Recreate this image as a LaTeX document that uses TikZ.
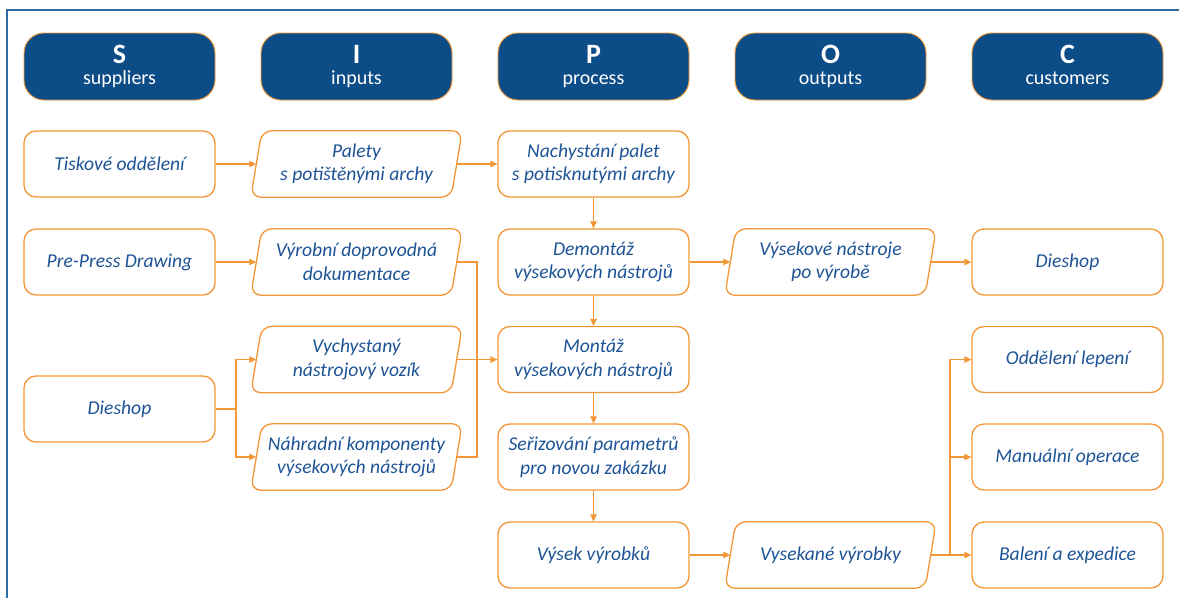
\documentclass[tikz,border=0pt]{standalone}
\usepackage{fontspec}
\setmainfont{Carlito}
\usetikzlibrary{arrows.meta,calc}

\definecolor{frameblue}{HTML}{2E6BA6}
\definecolor{headblue}{HTML}{0C4C87}
\definecolor{textblue}{HTML}{1E5496}
\definecolor{lineorange}{HTML}{F39636}

\tikzset{
  head/.style={draw=lineorange, line width=0.9pt, fill=headblue, rounded corners=20pt,
    minimum width=191pt, minimum height=67pt, text=white, align=center, inner sep=0pt,
    font=\fontsize{20}{21}\selectfont},
  box/.style={draw=lineorange, line width=1.3pt, rounded corners=12pt,
    minimum width=191pt, minimum height=66pt, text=textblue, align=center,
    font=\fontsize{19.6}{23.5}\selectfont\itshape, inner sep=0pt},
  parabox/.style={minimum width=211pt, minimum height=66pt, text=textblue, align=center,
    font=\fontsize{19.6}{23.5}\selectfont\itshape, inner sep=0pt},
  link/.style={draw=lineorange, line width=1.3pt},
  arr/.style={link, -{Triangle[length=7pt,width=6.5pt]}},
}

% header: big bold letter over its word, with a fixed depth
\newcommand\headtext[2]{{\fontsize{28}{28}\selectfont\bfseries #1}\\#2\vphantom{pyl}}

% slanted outline around a node of style parabox
\newcommand\slantframe[1]{%
  \draw[link, rounded corners=10pt]
    ([xshift=11pt]#1.north west) -- (#1.north east) --
    ([xshift=-11pt]#1.south east) -- (#1.south west) -- cycle;}

\begin{document}
\begin{tikzpicture}[x=1pt,y=-1pt]
\useasboundingbox (0,0) rectangle (1179,598);

% page frame (top and left rules)
\draw[frameblue, line width=1.3pt] (1179,10) -- (7,10) -- (7,598);

% column headers
\node[head] (hS) at (119.5,66.5)  {\headtext{S}{suppliers}};
\node[head] (hI) at (356.5,66.5)  {\headtext{I}{inputs}};
\node[head] (hP) at (593.5,66.5)  {\headtext{P}{process}};
\node[head] (hO) at (830.5,66.5)  {\headtext{O}{outputs}};
\node[head] (hC) at (1067.5,66.5) {\headtext{C}{customers}};

% suppliers
\node[box] (tisk) at (119.5,164) {Tiskové oddělení};
\node[box] (prep) at (119.5,262) {Pre-Press Drawing};
\node[box] (dieS) at (119.5,409) {Dieshop};

% inputs
\node[parabox] (pal)  at (356.5,164)   {Palety\\s potištěnými archy};
\node[parabox] (vyr)  at (356.5,262)   {Výrobní doprovodná\\dokumentace};
\node[parabox] (vych) at (356.5,359.5) {Vychystaný\\nástrojový vozík};
\node[parabox] (nah)  at (356.5,457)   {Náhradní komponenty\\výsekových nástrojů};
\slantframe{pal}
\slantframe{vyr}
\slantframe{vych}
\slantframe{nah}

% process
\node[box] (nach) at (593.5,164)   {Nachystání palet\\s potisknutými archy};
\node[box] (dem)  at (593.5,262)   {Demontáž\\výsekových nástrojů};
\node[box] (mont) at (593.5,359.5) {Montáž\\výsekových nástrojů};
\node[box] (seri) at (593.5,457)   {Seřizování parametrů\\pro novou zakázku};
\node[box] (vysek) at (593.5,555)  {Výsek výrobků};

% outputs
\node[parabox] (vnas) at (830.5,262) {Výsekové nástroje\\po výrobě};
\node[parabox] (vvyr) at (830.5,555) {Vysekané výrobky};
\slantframe{vnas}
\slantframe{vvyr}

% customers
\node[box] (dieC) at (1067.5,262)   {Dieshop};
\node[box] (odd)  at (1067.5,359.5) {Oddělení lepení};
\node[box] (man)  at (1067.5,457)   {Manuální operace};
\node[box] (bal)  at (1067.5,555)   {Balení a expedice};

% junction points
\coordinate (busS) at (236,409);
\coordinate (busI) at (477,359.5);
\coordinate (busC) at (950,555);

% connectors
\draw[arr] (tisk.east) -- ([xshift=5.5pt]pal.west);
\draw[arr] ([xshift=-5.5pt]pal.east) -- (nach.west);
\draw[arr] (prep.east) -- ([xshift=5.5pt]vyr.west);

\draw[link] (dieS.east) -- (busS);
\draw[arr] (busS) |- ([xshift=5.5pt]vych.west);
\draw[arr] (busS) |- ([xshift=5.5pt]nah.west);

\draw[link] ([xshift=-5.5pt]vyr.east) -| (busI);
\draw[link] ([xshift=-5.5pt]nah.east) -| (busI);
\draw[arr] ([xshift=-5.5pt]vych.east) -- (mont.west);

\draw[arr] (nach.south) -- (dem.north);
\draw[arr] (dem.south) -- (mont.north);
\draw[arr] (mont.south) -- (seri.north);
\draw[arr] (seri.south) -- (vysek.north);

\draw[arr] (dem.east) -- ([xshift=5.5pt]vnas.west);
\draw[arr] ([xshift=-5.5pt]vnas.east) -- (dieC.west);

\draw[arr] (vysek.east) -- ([xshift=5.5pt]vvyr.west);
\draw[arr] ([xshift=-5.5pt]vvyr.east) -- (bal.west);
\draw[arr] (busC) |- (odd.west);
\draw[arr] (busC) |- (man.west);
\end{tikzpicture}
\end{document}
